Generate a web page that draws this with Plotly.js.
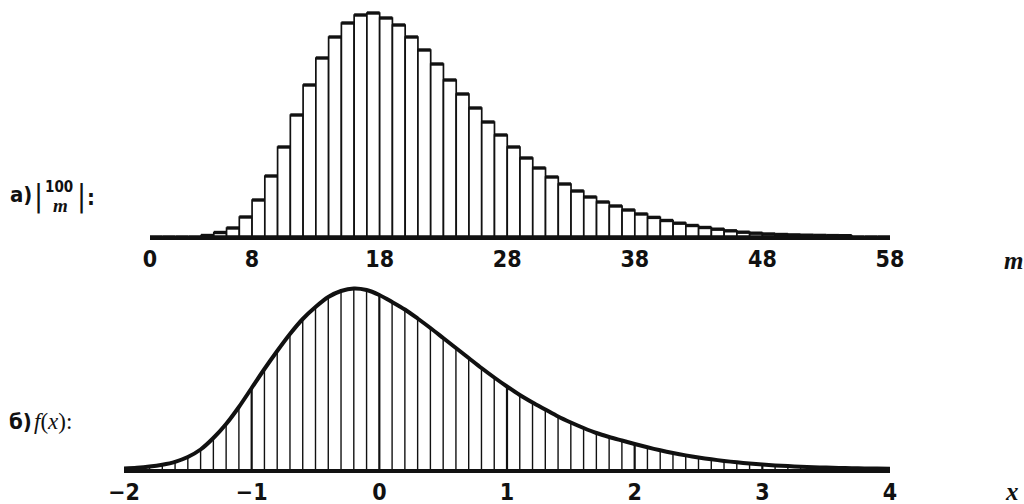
<!DOCTYPE html>
<html>
<head>
<meta charset="utf-8">
<script src="https://cdn.plot.ly/plotly-3.0.1.min.js"></script>
<style>
  html, body { margin: 0; padding: 0; background: #ffffff; }
  #chart { width: 1024px; height: 504px; }
</style>
</head>
<body>
<div id="chart"></div>
<script>
// (a) Stirling bracket values [100 m], relative heights, m = 0 … 57
const mValues = [0,1,2,3,4,5,6,7,8,9,10,11,12,13,14,15,16,17,18,19,20,21,22,23,24,25,26,27,28,29,
                 30,31,32,33,34,35,36,37,38,39,40,41,42,43,44,45,46,47,48,49,50,51,52,53,54,55,56,57];
const bracketValues = [0,0,0,0,0.5,3.5,8,19,36,60,89,121,151,178,199,213,221,223,218,211,
                       199,186,172,156,142,128,114,101,89,78,68,59,52,45,39,34,30,26,22,18.6,
                       15.5,12.8,10.5,8.5,6.8,5.2,3.8,2.8,2.0,1.5,1.1,0.8,0.6,0.4,0.3,0,0,0];
const mTicks = [0, 8, 18, 28, 38, 48, 58];

// (б) limiting density f(x), sampled every 0.1 from −2 to 4
const xValues = [-2.0,-1.9,-1.8,-1.7,-1.6,-1.5,-1.4,-1.3,-1.2,-1.1,
                 -1.0,-0.9,-0.8,-0.7,-0.6,-0.5,-0.4,-0.3,-0.2,-0.1,
                 0.0,0.1,0.2,0.3,0.4,0.5,0.6,0.7,0.8,0.9,
                 1.0,1.1,1.2,1.3,1.4,1.5,1.6,1.7,1.8,1.9,
                 2.0,2.1,2.2,2.3,2.4,2.5,2.6,2.7,2.8,2.9,
                 3.0,3.1,3.2,3.3,3.4,3.5,3.6,3.7,3.8,3.9,4.0];
const fValues = [0.5,1.2,2.4,4.3,7.2,12,19.5,31,45,62,
                 81,100,118,135,150,162,172,178,180.5,179,
                 174,167,159.5,150.5,141,131,121,111,101,91.5,
                 82.5,74,66.5,59.5,52.5,46.5,41,36,32,28.5,
                 25,21.7,18.7,16,13.6,11.5,9.7,8.1,6.7,5.5,
                 4.5,3.6,2.9,2.3,1.8,1.4,1.1,0.8,0.6,0.4,0.3];
const xTickVals = [-2, -1, 0, 1, 2, 3, 4];
const xTickText = ['−2', '−1', '0', '1', '2', '3', '4'];

const INK = '#111111';
const SANS = '"DejaVu Sans Condensed", "Liberation Sans Narrow", "Liberation Sans", Arial, sans-serif';
const SERIF = '"Liberation Serif", "Times New Roman", serif';
const TICK_FONT = { family: SANS, size: 23, color: INK, weight: 'bold' };

// heavy top edge of each bar
const topX = [], topY = [];
mValues.forEach((m, i) => {
  if (bracketValues[i] > 0) { topX.push(m, m + 1, null); topY.push(bracketValues[i], bracketValues[i], null); }
});

// vertical hatching under the density curve
const hatchX = [], hatchY = [], hatchXBold = [], hatchYBold = [];
xValues.forEach((x, i) => {
  if (i === 0 || i === xValues.length - 1) return;
  const isInt = Math.abs(x - Math.round(x)) < 1e-9;
  (isInt ? hatchXBold : hatchX).push(x, x, null);
  (isInt ? hatchYBold : hatchY).push(0, fValues[i], null);
});

const traces = [
  {
    type: 'bar', x: mValues, y: bracketValues, width: 1, offset: 0,
    marker: { color: '#ffffff', line: { color: INK, width: 1.7 } },
    xaxis: 'x', yaxis: 'y', hoverinfo: 'skip'
  },
  {
    type: 'scatter', mode: 'lines', x: topX, y: topY,
    line: { color: INK, width: 3.4 }, xaxis: 'x', yaxis: 'y', hoverinfo: 'skip'
  },
  {
    type: 'scatter', mode: 'lines', x: hatchX, y: hatchY,
    line: { color: INK, width: 1.4 }, xaxis: 'x2', yaxis: 'y2', hoverinfo: 'skip'
  },
  {
    type: 'scatter', mode: 'lines', x: hatchXBold, y: hatchYBold,
    line: { color: INK, width: 2.2 }, xaxis: 'x2', yaxis: 'y2', hoverinfo: 'skip'
  },
  {
    type: 'scatter', mode: 'lines', x: xValues, y: fValues,
    line: { color: INK, width: 4, shape: 'spline', smoothing: 0.8 },
    xaxis: 'x2', yaxis: 'y2', hoverinfo: 'skip'
  }
];

const axisCommon = {
  showgrid: false, zeroline: false, showline: true, linecolor: INK, linewidth: 3.5,
  ticks: '', tickfont: TICK_FONT, fixedrange: true
};

const labelFont = { family: SANS, size: 22, color: INK, weight: 'bold' };
const axisNameFont = { family: SERIF, size: 25, color: INK, style: 'italic', weight: 'bold' };

function note(text, x, y, font, extra) {
  return Object.assign({ text, x, y, xref: 'paper', yref: 'paper', showarrow: false,
    xanchor: 'center', yanchor: 'middle', font }, extra || {});
}
const H = 504, W = 1024;
const px = (v) => v / W, py = (v) => 1 - v / H;

const layout = {
  width: 1024, height: 504,
  margin: { l: 0, r: 0, t: 0, b: 0 },
  paper_bgcolor: '#ffffff', plot_bgcolor: '#ffffff',
  showlegend: false,
  bargap: 0,
  xaxis: Object.assign({}, axisCommon, {
    domain: [150 / W, 890 / W], range: [0, 58], anchor: 'y',
    tickmode: 'array', tickvals: mTicks, ticktext: mTicks.map(String)
  }),
  yaxis: { domain: [1 - 236 / H, 1], range: [0, 236], visible: false, fixedrange: true },
  xaxis2: Object.assign({}, axisCommon, {
    domain: [124 / W, 890 / W], range: [-2, 4], anchor: 'y2',
    tickmode: 'array', tickvals: xTickVals, ticktext: xTickText
  }),
  yaxis2: { domain: [1 - 469 / H, 1 - 270 / H], range: [0, 199], visible: false, fixedrange: true },
  annotations: [
    note('а)', px(21), py(195), labelFont),
    note('|', px(38), py(196), { family: SANS, size: 30, color: INK }),
    note('100', px(59), py(187), { family: SANS, size: 15, color: INK, weight: 'bold' }),
    note('m', px(60), py(205), { family: SERIF, size: 19, color: INK, style: 'italic', weight: 'bold' }),
    note('|', px(81), py(196), { family: SANS, size: 30, color: INK }),
    note(':', px(91), py(198), labelFont),
    note('б)', px(20), py(421), labelFont),
    note('<i>f</i>(<i>x</i>):', px(53), py(421), { family: SERIF, size: 23, color: INK }),
    note('m', px(1013), py(260), axisNameFont),
    note('x', px(1012), py(491), axisNameFont)
  ]
};

Plotly.newPlot('chart', traces, layout, { displayModeBar: false, staticPlot: true });
</script>
</body>
</html>
